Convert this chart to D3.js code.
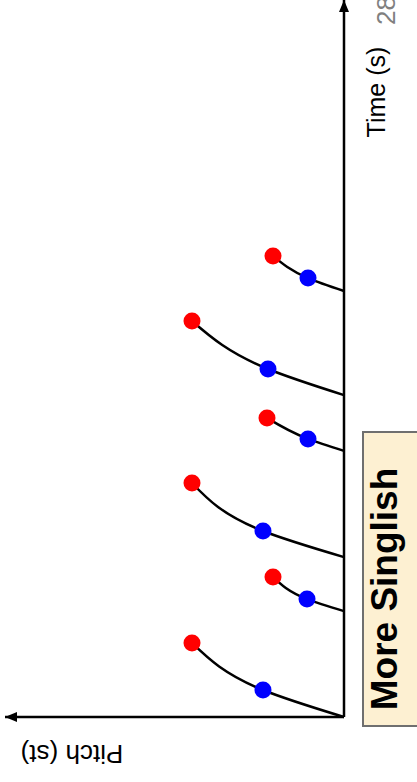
<!DOCTYPE html>
<html>
<head>
<meta charset="utf-8">
<script src="https://cdn.jsdelivr.net/npm/d3@7/dist/d3.min.js"></script>
<style>
  html, body { margin: 0; padding: 0; background: #fff; overflow: hidden; }
  svg { display: block; }
  text { font-family: "Liberation Sans", Arial, Helvetica, sans-serif; }
</style>
</head>
<body>
<div id="chart"></div>
<script>
// Data (time in seconds, pitch in semitones)
const syllableStart = [0, 0.353, 0.533, 0.887, 1.073, 1.42];
const startPitch    = [0, 0, 0, 0, 0, 0];
const blueTime      = [0.09, 0.393, 0.62, 0.927, 1.16, 1.463];
const bluePitch     = [4.05, 1.85, 4.05, 1.8, 3.8, 1.8];
const redTime       = [0.247, 0.467, 0.78, 0.997, 1.32, 1.537];
const redPitch      = [7.6, 3.55, 7.6, 3.85, 7.6, 3.55];
const axisLabels    = ["Time (s)", "Pitch (st)"];
const boxLabel      = "More Singlish";
const cornerLabel   = "28";

const W = 417, H = 782;          // screen
const LW = H, LH = W;            // landscape (chart is rotated -90deg)

const svg = d3.select("#chart").append("svg")
  .attr("width", W).attr("height", H);

const defs = svg.append("defs");
defs.append("marker")
  .attr("id", "arrow")
  .attr("viewBox", "0 0 12 10")
  .attr("refX", 12).attr("refY", 5)
  .attr("markerWidth", 12).attr("markerHeight", 10)
  .attr("markerUnits", "userSpaceOnUse")
  .attr("orient", "auto")
  .append("path").attr("d", "M0,0 L12,5 L0,10 Z").attr("fill", "#000");

const g = svg.append("g").attr("transform", `translate(0,${H}) rotate(-90)`);

const x = d3.scaleLinear().domain([0, 1]).range([65, 365]);
const y = d3.scaleLinear().domain([0, 1]).range([344, 324]);

// Box
g.append("rect")
  .attr("x", 56).attr("y", 363).attr("width", 294).attr("height", 80)
  .attr("fill", "#fdf0d2").attr("stroke", "#6f6f6f").attr("stroke-width", 2);
g.append("text")
  .attr("x", 193).attr("y", 397)
  .attr("text-anchor", "middle")
  .attr("font-size", 37).attr("font-weight", "bold").attr("fill", "#000")
  .text(boxLabel);

// Axes
g.append("line")
  .attr("x1", x(0)).attr("y1", y(0)).attr("x2", LW).attr("y2", y(0))
  .attr("stroke", "#000").attr("stroke-width", 2.5).attr("marker-end", "url(#arrow)");
g.append("line")
  .attr("x1", x(0)).attr("y1", y(0)).attr("x2", x(0)).attr("y2", 5)
  .attr("stroke", "#000").attr("stroke-width", 2.5).attr("marker-end", "url(#arrow)");

g.append("text")
  .attr("x", 690).attr("y", 385).attr("text-anchor", "middle")
  .attr("font-size", 25).attr("fill", "#000").text(axisLabels[0]);
g.append("text")
  .attr("x", 757).attr("y", 395).attr("text-anchor", "start")
  .attr("font-size", 26).attr("fill", "#808080").text(cornerLabel);
g.append("text")
  .attr("transform", `translate(37,72) rotate(-90)`)
  .attr("text-anchor", "middle")
  .attr("font-size", 26).attr("fill", "#000").text(axisLabels[1]);

// Contours
const line = d3.line().x(d => x(d[0])).y(d => y(d[1])).curve(d3.curveMonotoneX);
const contours = syllableStart.map((s, i) => [
  [s, startPitch[i]], [blueTime[i], bluePitch[i]], [redTime[i], redPitch[i]]
]);
g.selectAll("path.contour").data(contours).join("path")
  .attr("class", "contour")
  .attr("d", line).attr("fill", "none").attr("stroke", "#000").attr("stroke-width", 2.5);

g.selectAll("circle.blue").data(blueTime).join("circle")
  .attr("class", "blue")
  .attr("cx", (d) => x(d)).attr("cy", (d, i) => y(bluePitch[i]))
  .attr("r", 8.5).attr("fill", "#0000ff");
g.selectAll("circle.red").data(redTime).join("circle")
  .attr("class", "red")
  .attr("cx", (d) => x(d)).attr("cy", (d, i) => y(redPitch[i]))
  .attr("r", 8.5).attr("fill", "#ff0000");
</script>
</body>
</html>
